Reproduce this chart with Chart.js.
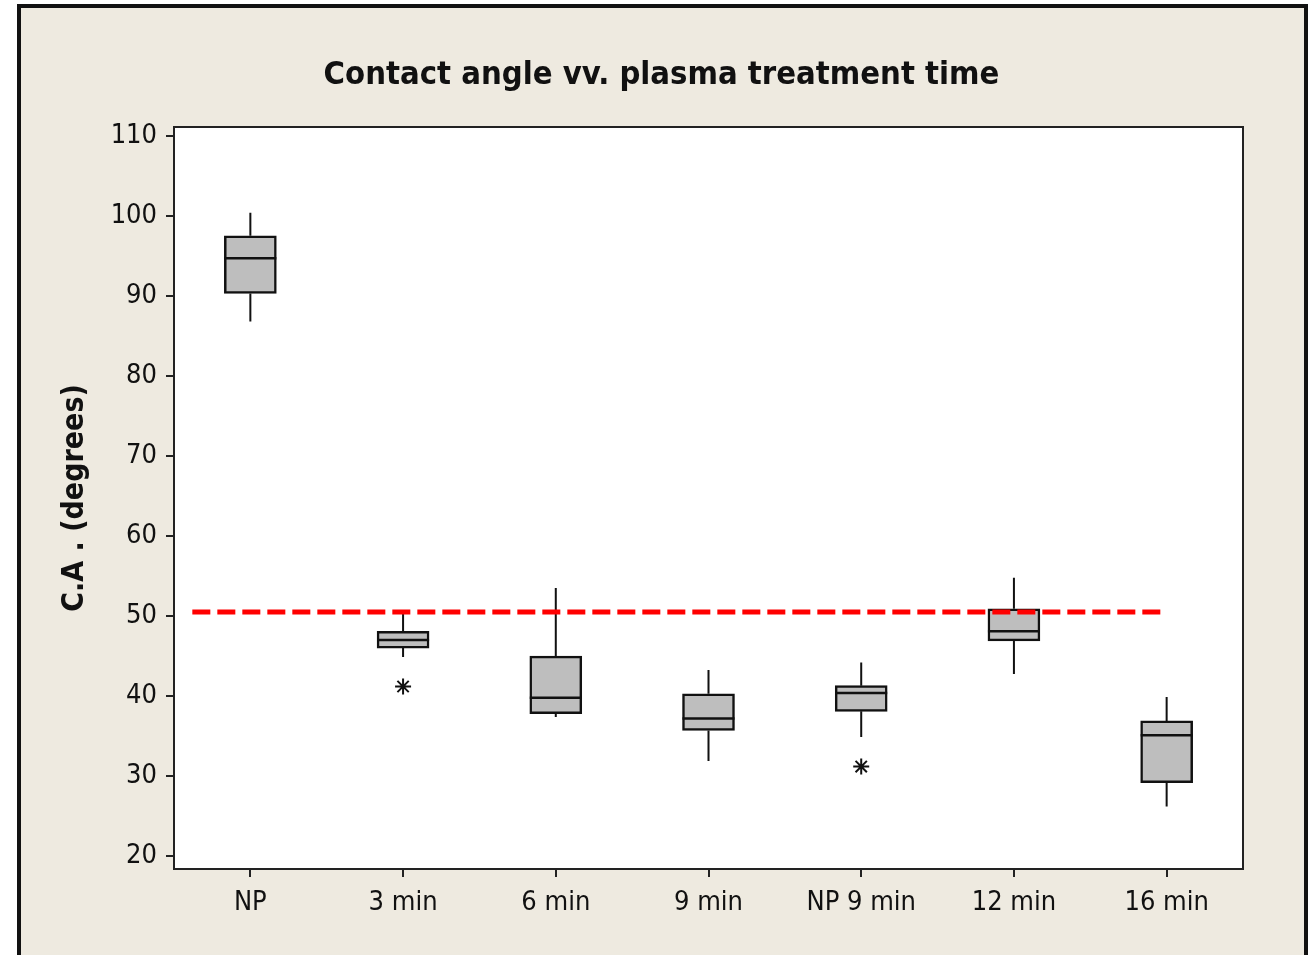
<!DOCTYPE html>
<html>
<head>
<meta charset="utf-8">
<script src="https://cdn.jsdelivr.net/npm/chart.js@4.4.1/dist/chart.umd.min.js"></script>
<style>
    html, body { margin: 0; padding: 0; background: #fff; overflow: hidden; }
    #frame {
        position: absolute; left: 17px; top: 4px; width: 1291px; height: 1000px;
        box-sizing: border-box; border: 4px solid #111; background: #eeeae0;
    }
    #wrap { position: absolute; left: 0; top: 0; width: 1311px; height: 955px; }
</style>
</head>
<body>
<div id="frame"></div>
<div id="wrap"><canvas id="boxChart" width="1311" height="955"></canvas></div>
<script>
const categories = ["NP", "3 min", "6 min", "9 min", "NP 9 min", "12 min", "16 min"];
const whiskerLow  = [86.8, 44.9, 37.4, 31.9, 34.9, 42.75, 26.2];
const q1          = [90.3, 46.0, 37.8, 35.7, 38.1, 46.9, 29.2];
const medians     = [94.7, 47.0, 39.8, 37.2, 40.4, 48.1, 35.1];
const q3          = [97.5, 48.1, 45.0, 40.3, 41.3, 50.9, 36.9];
const whiskerHigh = [100.4, 50.75, 53.5, 43.25, 44.2, 54.8, 39.9];
const outliers    = [null, 41.2, null, null, 31.2, null, null];
const yTicks = [20, 30, 40, 50, 60, 70, 80, 90, 100, 110];
const refLevel = 50.5;
const refFrom = -0.38;
const refTo = 6;

const FONT = "'DejaVu Sans Condensed', 'Liberation Sans', sans-serif";

// white plot area + border around it
const plotFrame = {
    id: "plotFrame",
    beforeDraw(chart) {
        const { ctx, chartArea: a } = chart;
        ctx.save();
        ctx.fillStyle = "#fff";
        ctx.fillRect(a.left, a.top, a.right - a.left, a.bottom - a.top);
        ctx.restore();
    },
    afterDraw(chart) {
        const { ctx, chartArea: a } = chart;
        ctx.save();
        ctx.strokeStyle = "#222";
        ctx.lineWidth = 2;
        ctx.strokeRect(a.left, a.top, a.right - a.left, a.bottom - a.top);
        ctx.restore();
    }
};

// whiskers and median lines, drawn right after the boxes
const boxExtras = {
    id: "boxExtras",
    afterDatasetDraw(chart, args) {
        if (args.index !== 0) return;
        const { ctx, scales: { x, y } } = chart;
        const meta = chart.getDatasetMeta(0);
        ctx.save();
        ctx.strokeStyle = "#111";
        categories.forEach((c, i) => {
            const cx = meta.data[i].x;
            const half = meta.data[i].width / 2;
            ctx.lineWidth = 2;
            ctx.beginPath();
            ctx.moveTo(cx, y.getPixelForValue(whiskerHigh[i]));
            ctx.lineTo(cx, y.getPixelForValue(q3[i]));
            ctx.moveTo(cx, y.getPixelForValue(q1[i]));
            ctx.lineTo(cx, y.getPixelForValue(whiskerLow[i]));
            ctx.stroke();
            ctx.lineWidth = 2.5;
            const my = y.getPixelForValue(medians[i]);
            ctx.beginPath();
            ctx.moveTo(cx - half, my);
            ctx.lineTo(cx + half, my);
            ctx.stroke();
        });
        ctx.restore();
    }
};

const ctx = document.getElementById("boxChart").getContext("2d");
const chart = new Chart(ctx, {
    type: "bar",
    data: {
        labels: categories,
        datasets: [
            {
                label: "box",
                data: categories.map((c, i) => [q1[i], q3[i]]),
                backgroundColor: "#bebebe",
                borderColor: "#111",
                borderWidth: 2.5,
                borderSkipped: false,
                barThickness: 52,
                grouped: false,
                order: 3
            },
            {
                type: "line",
                label: "outliers",
                data: outliers,
                showLine: false,
                pointStyle: "star",
                pointRadius: 8,
                pointBorderWidth: 2,
                borderColor: "#111",
                backgroundColor: "#111",
                order: 2
            },
            {
                type: "line",
                label: "reference",
                xAxisID: "x2",
                data: [{ x: refFrom, y: refLevel }, { x: refTo, y: refLevel }],
                borderColor: "#ff0000",
                borderWidth: 5,
                borderDash: [18, 7],
                pointRadius: 0,
                order: 1
            }
        ]
    },
    options: {
        responsive: false,
        animation: false,
        layout: { padding: { left: 12, right: 0, top: 0, bottom: 0 } },
        plugins: {
            legend: { display: false },
            tooltip: { enabled: false },
            title: {
                display: true,
                text: "Contact angle vv. plasma treatment time",
                color: "#111",
                font: { family: FONT, size: 32.5, weight: "bold" },
                padding: { top: 56, bottom: 32 }
            }
        },
        scales: {
            x: {
                type: "category",
                offset: true,
                grid: { offset: false, drawOnChartArea: false, drawTicks: true, tickLength: 8, color: "#222", lineWidth: 2 },
                border: { display: true, color: "#222", width: 2 },
                ticks: { color: "#111", font: { family: FONT, size: 27 }, padding: 10, maxRotation: 0 },
                afterFit: s => { s.height = 86; }
            },
            x2: {
                type: "linear",
                display: false,
                offset: false,
                min: -0.5,
                max: 6.5
            },
            y: {
                type: "linear",
                min: 18.4,
                max: 111.1,
                afterBuildTicks: s => { s.ticks = yTicks.map(v => ({ value: v })); },
                grid: { drawOnChartArea: false, drawTicks: true, tickLength: 8, color: "#222", lineWidth: 2 },
                border: { display: true, color: "#222", width: 2 },
                ticks: { color: "#111", font: { family: FONT, size: 27 }, padding: 9 },
                title: {
                    display: true,
                    text: "C.A . (degrees)",
                    color: "#111",
                    font: { family: FONT, size: 30, weight: "bold" },
                    padding: { top: 45, bottom: 0 }
                },
                afterFit: s => { s.width = 162; }
            },
            yR: {
                type: "linear",
                position: "right",
                display: true,
                grid: { display: false },
                border: { display: false },
                ticks: { display: false },
                afterFit: s => { s.width = 68; }
            }
        }
    },
    plugins: [plotFrame, boxExtras]
});
</script>
</body>
</html>
